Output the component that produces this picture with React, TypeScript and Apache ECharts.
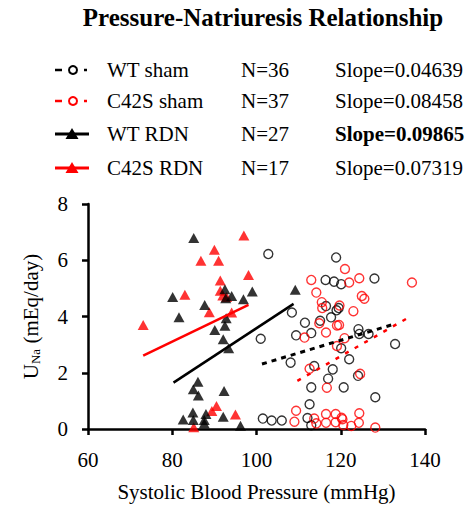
import React, { useEffect, useRef } from "react";
import * as echarts from "echarts";

const FONT = "Liberation Serif";

// ---- data ----
const wtSham: number[][] = [
  [102.8, 6.22], [101.0, 3.21], [118.9, 6.1], [116.4, 5.3], [118.4, 5.24], [120.1, 5.15],
  [128.0, 5.35], [116.5, 4.37], [119.0, 4.22], [117.7, 3.97], [115.1, 3.85], [108.4, 4.14],
  [111.5, 3.78], [109.4, 3.33], [113.0, 3.41], [124.4, 3.38], [126.6, 3.38], [132.9, 3.02],
  [120.1, 2.87], [122.0, 2.48], [108.1, 2.36], [113.7, 2.24], [118.1, 2.12], [117.0, 1.79],
  [124.1, 1.89], [113.0, 1.48], [120.7, 1.48], [128.2, 1.13], [112.6, 0.88], [101.5, 0.37],
  [103.6, 0.3], [106.0, 0.3], [112.1, 0.39], [113.0, 0.13], [124.2, 3.55], [119.5, 4.3],
];
const c42sSham: number[][] = [
  [121.0, 5.69], [113.0, 5.3], [122.0, 5.21], [124.4, 5.36], [136.9, 5.21], [114.2, 4.85],
  [125.0, 4.73], [125.6, 4.63], [115.5, 4.51], [119.7, 4.39], [123.0, 4.19], [114.9, 3.76],
  [119.6, 3.7], [119.1, 3.68], [116.5, 3.43], [111.4, 3.25], [120.9, 3.23], [119.1, 2.95],
  [112.6, 2.14], [124.6, 1.96], [116.7, 1.47], [109.4, 0.65], [109.0, 0.26], [113.7, 0.37],
  [114.2, 0.2], [116.5, 0.53], [116.5, 0.22], [118.8, 0.53], [118.8, 0.24], [120.4, 0.35],
  [120.6, 0.14], [122.5, 0.11], [124.4, 0.56], [124.3, 0.22], [128.2, 0.05], [120.2, 0.4],
  [115.6, 4.3],
];
const wtRdn: number[][] = [
  [85.1, 6.79], [80.1, 4.69], [81.6, 3.97], [87.7, 4.41], [92.5, 4.97], [94.1, 4.73],
  [96.9, 4.61], [99.0, 4.89], [92.7, 4.65], [92.8, 3.94], [92.5, 3.67], [90.1, 3.52],
  [92.1, 3.19], [93.4, 2.87], [86.1, 1.68], [85.0, 1.41], [86.2, 1.19], [92.3, 1.35],
  [82.6, 0.34], [84.9, 0.59], [85.0, 0.32], [88.0, 0.53], [87.6, 0.32], [87.6, 0.2],
  [92.1, 0.44], [96.2, 0.12], [109.2, 4.95],
];
const c42sRdn: number[][] = [
  [73.1, 3.7], [83.0, 4.77], [85.1, 0.06], [86.8, 5.98], [90.0, 6.37], [91.0, 5.98],
  [97.0, 6.88], [98.1, 5.48], [91.4, 5.28], [91.4, 4.92], [92.0, 4.75], [92.9, 4.69],
  [88.8, 4.15], [94.1, 4.14], [89.4, 0.64], [90.5, 0.82], [95.0, 0.52],
];

// regression line endpoints
const wtShamLine: number[][] = [[101.3, 2.31], [132.5, 3.72]];
const c42sShamLine: number[][] = [[109.7, 1.71], [135.7, 3.93]];
const wtRdnLine: number[][] = [[80.3, 1.65], [108.8, 4.45]];
const c42sRdnLine: number[][] = [[73.1, 2.61], [98.1, 4.41]];

const legendNames = ["WT sham", "C42S sham", "WT RDN", "C42S RDN"];
const legendN = ["N=36", "N=37", "N=27", "N=17"];
const legendSlopes = ["Slope=0.04639", "Slope=0.08458", "Slope=0.09865", "Slope=0.07319"];

const xTicks = { min: 60, max: 140, interval: 20 };
const yTicks = { min: 0, max: 8, interval: 2 };

const titleText = "Pressure-Natriuresis Relationship";
const xName = "Systolic Blood Pressure (mmHg)";

export default function App() {
  const ref = useRef<HTMLDivElement>(null);
  useEffect(() => {
    document.body.style.margin = "0";
    if (!ref.current) return;
    const chart = echarts.init(ref.current, undefined, { renderer: "svg" });

    const rowY = [70, 101, 134, 168];
    const colors = ["#000", "#ff0000", "#000", "#ff0000"];
    const graphics: any[] = [
      {
        type: "text",
        x: 263,
        y: 17,
        style: {
          text: titleText,
          fontFamily: FONT,
          fontSize: 25,
          fontWeight: "bold",
          fill: "#000",
          align: "center",
          verticalAlign: "middle",
        },
      },
    ];
    legendNames.forEach((name, i) => {
      const y = rowY[i];
      const c = colors[i];
      if (i < 2) {
        graphics.push({ type: "line", shape: { x1: 55, y1: y, x2: 62, y2: y }, style: { stroke: c, lineWidth: 2.5 } });
        graphics.push({ type: "circle", shape: { cx: 73, cy: y, r: 4 }, style: { stroke: c, lineWidth: 2, fill: "none" } });
        graphics.push({ type: "line", shape: { x1: 84, y1: y, x2: 87, y2: y }, style: { stroke: c, lineWidth: 2.5 } });
      } else {
        graphics.push({ type: "line", shape: { x1: 55, y1: y, x2: 89, y2: y }, style: { stroke: c, lineWidth: 3 } });
        graphics.push({
          type: "polygon",
          shape: { points: [[72, y - 6], [65.5, y + 5], [78.5, y + 5]] },
          style: { fill: c },
        });
      }
      const txt = (t: string, x: number, bold = false) => ({
        type: "text",
        x,
        y,
        style: {
          text: t,
          fontFamily: FONT,
          fontSize: 21,
          fontWeight: bold ? "bold" : "normal",
          fill: "#000",
          align: "left",
          verticalAlign: "middle",
        },
      });
      graphics.push(txt(name, 107));
      graphics.push(txt(legendN[i], 241));
      graphics.push(txt(legendSlopes[i], 335, i === 2));
    });

    const axisCommon = {
      axisLine: { show: true, onZero: false, lineStyle: { color: "#000", width: 2.5 } },
      axisTick: { show: true, length: 6, inside: false, lineStyle: { color: "#000", width: 2.5 } },
      splitLine: { show: false },
    };

    const circleStyle = (c: string) => ({ color: "rgba(0,0,0,0)", borderColor: c, borderWidth: 1.4 });

    chart.setOption({
      animation: false,
      textStyle: { fontFamily: FONT },
      grid: { left: 88, right: 43, top: 204, bottom: 77, containLabel: false },
      graphic: graphics,
      xAxis: {
        type: "value",
        ...xTicks,
        ...axisCommon,
        axisLabel: { color: "#000", fontSize: 21, fontFamily: FONT, margin: 20 },
        name: xName,
        nameLocation: "middle",
        nameGap: 52,
        nameTextStyle: { color: "#000", fontSize: 21, fontFamily: FONT },
      },
      yAxis: {
        type: "value",
        ...yTicks,
        ...axisCommon,
        axisLabel: { color: "#000", fontSize: 21, fontFamily: FONT, margin: 20 },
        name: "{u|U}{s|Na}{u| (mEq/day)}",
        nameLocation: "middle",
        nameGap: 46,
        nameTextStyle: {
          color: "#000",
          fontFamily: FONT,
          rich: {
            u: { fontSize: 21, fontFamily: FONT, color: "#000" },
            s: { fontSize: 13, fontFamily: FONT, color: "#000", padding: [9, 0, 0, 0] },
          },
        },
      },
      series: [
        {
          type: "line", data: wtShamLine, symbol: "none", silent: true,
          lineStyle: { color: "#000", width: 3, type: [5, 5] },
        },
        {
          type: "line", data: c42sShamLine, symbol: "none", silent: true,
          lineStyle: { color: "#ff0000", width: 2.5, type: [4, 7] },
        },
        {
          type: "line", data: wtRdnLine, symbol: "none", silent: true,
          lineStyle: { color: "#000", width: 2.5 },
        },
        {
          type: "line", data: c42sRdnLine, symbol: "none", silent: true,
          lineStyle: { color: "#ff0000", width: 2.5 },
        },
        {
          type: "scatter", data: wtSham, symbol: "circle", symbolSize: 9, silent: true,
          itemStyle: circleStyle("#000"),
        },
        {
          type: "scatter", data: c42sSham, symbol: "circle", symbolSize: 9, silent: true,
          itemStyle: circleStyle("#ff0000"),
        },
        {
          type: "scatter", data: c42sRdn, symbol: "triangle", symbolSize: [11, 10], silent: true,
          itemStyle: { color: "#ff0000" },
        },
        {
          type: "scatter", data: wtRdn, symbol: "triangle", symbolSize: [11, 10], silent: true,
          itemStyle: { color: "#000" },
        },
      ],
    });
    return () => chart.dispose();
  }, []);
  return <div ref={ref} style={{ width: 468, height: 506 }} />;
}
